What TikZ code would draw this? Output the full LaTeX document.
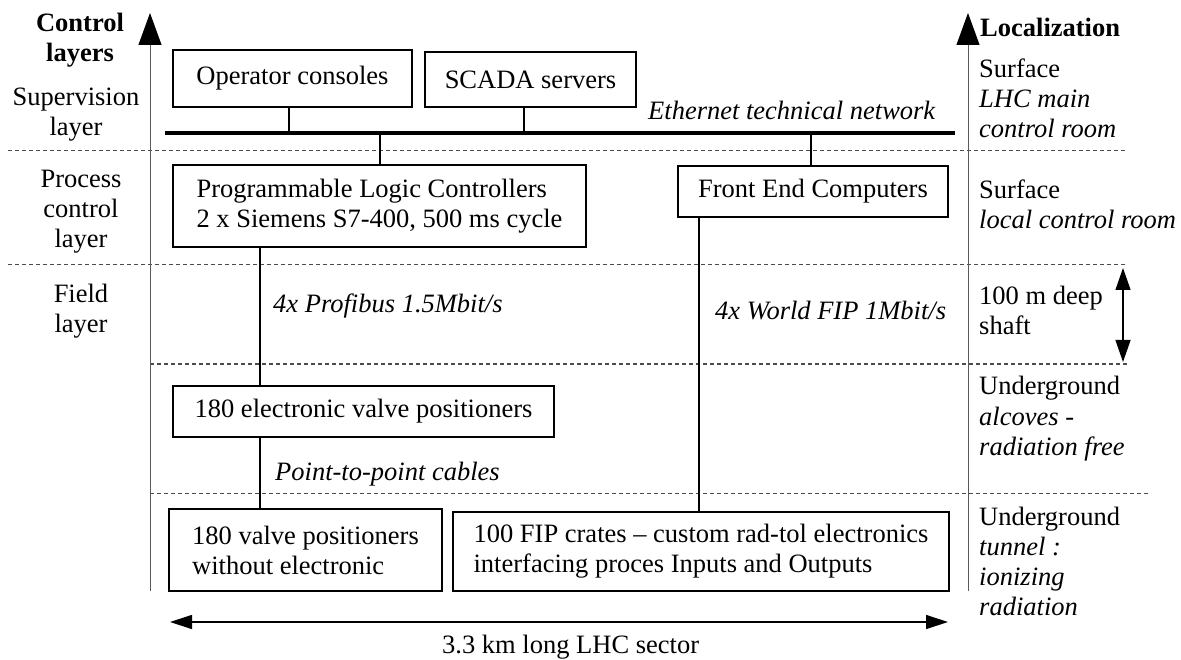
\documentclass[tikz,border=0pt]{standalone}
\usepackage{fontspec}
\setmainfont{Liberation Serif}
\usetikzlibrary{arrows.meta}
\newcommand\leftlines[1]{\begin{tabular}[t]{@{}l@{}}#1\end{tabular}}
\newcommand\centerlines[1]{\begin{tabular}[t]{@{}c@{}}#1\end{tabular}}
\tikzset{
  box/.style={draw, line width=2.2pt, inner sep=0pt, align=left},
  conn/.style={line width=2pt},
  bus/.style={line width=3.5pt},
  axis/.style={line width=1pt, black!65, -{Triangle[length=32pt,width=23pt,color=black]}},
  sep/.style={line width=1pt, black!70, dash pattern=on 4pt off 3pt},
  dbl/.style={line width=1.2pt, {Triangle[length=22pt,width=15pt]}-{Triangle[length=22pt,width=15pt]}},
  lbl/.style={inner sep=0pt, anchor=base west},
  lyr/.style={inner sep=0pt, anchor=base},
}
\begin{document}
\begin{tikzpicture}[x=1pt,y=-1pt,font=\fontsize{26.5}{30}\selectfont]
\useasboundingbox (0,0) rectangle (1181,660);
% separators
\draw[sep] (8,151) -- (1125,151);
\draw[sep] (8,265) -- (1125,265);
\draw[sep] (150,364) -- (1128,364);
\draw[sep] (150,493) -- (1151,493);
% axes
\coordinate (laxB) at (150,591);
\coordinate (laxT) at (150,13);
\coordinate (raxB) at (968,591);
\coordinate (raxT) at (968,13);
\draw[axis] (laxB) -- (laxT);
\draw[axis] (raxB) -- (raxT);
% bus
\coordinate (busL) at (165,133);
\coordinate (busR) at (955,133);
\draw[bus] (busL) -- (busR);
% boxes
\node[box, minimum width=239pt, minimum height=57pt] (oc) at (292.5,78.5) {Operator consoles};
\node[box, minimum width=211pt, minimum height=55pt] (scada) at (530.5,79.5) {SCADA servers};
\node[box, minimum width=413pt, minimum height=82pt] (plc) at (379.5,206) {Programmable Logic Controllers\\2 x Siemens S7-400, 500 ms cycle};
\node[box, minimum width=270pt, minimum height=51pt] (fec) at (813,191.5) {Front End Computers};
\node[box, minimum width=381pt, minimum height=51pt] (evp) at (363.5,411.5) {180 electronic valve positioners};
\node[box, minimum width=273pt, minimum height=82pt] (vp) at (305.5,550) {180 valve positioners\\without electronic};
\node[box, minimum width=496pt, minimum height=79pt] (fip) at (701,551.5) {100 FIP crates – custom rad-tol electronics\\interfacing proces Inputs and Outputs};
% connectors
\draw[conn] ([xshift=-3.5pt]oc.south) -- ([xshift=-3.5pt]oc.south |- busL);
\draw[conn] ([xshift=-6.5pt]scada.south) -- ([xshift=-6.5pt]scada.south |- busL);
\draw[conn] (plc.north) -- (plc.north |- busL);
\draw[conn] ([xshift=-2pt]fec.north) -- ([xshift=-2pt]fec.north |- busL);
\draw[conn] ([xshift=-119.5pt]plc.south) -- ([xshift=-119.5pt]plc.south |- evp.north);
\draw[conn] ([xshift=-103.5pt]evp.south) -- ([xshift=-103.5pt]evp.south |- vp.north);
\draw[conn] ([xshift=-114pt]fec.south) -- ([xshift=-114pt]fec.south |- fip.north);
% link labels
\node[lbl] (eth) at (648,120) {\itshape Ethernet technical network};
\node[lbl] (prof) at (273,313) {\itshape 4x Profibus 1.5Mbit/s};
\node[lbl] (wfip) at (715,320) {\itshape 4x World FIP 1Mbit/s};
\node[lbl] (p2p) at (275,480) {\itshape Point-to-point cables};
% bottom arrow
\coordinate (secL) at (170,622);
\coordinate (secR) at (948,622);
\draw[line width=1.2pt, {Triangle[length=22pt,width=14pt]}-{Triangle[length=22pt,width=14pt]}] (secL) -- (secR);
\node[lbl] (sector) at (442,653) {3.3 km long LHC sector};
% shaft arrow
\coordinate (shT) at (1123,268);
\coordinate (shB) at (1123,362);
\draw[dbl] (shT) -- (shB);
% left layer labels
\node[lyr] (cl) at (80,32) {\bfseries\centerlines{Control\\layers}};
\node[lyr] (sup) at (76,106) {\centerlines{Supervision\\layer}};
\node[lyr] (proc) at (81,188) {\centerlines{Process\\control\\layer}};
\node[lyr] (fld) at (81,303) {\centerlines{Field\\layer}};
% right localization labels
\node[lbl] (loc) at (980,37) {\bfseries Localization};
\node[lbl] (l1) at (979,78) {\leftlines{Surface\\\textit{LHC main}\\\textit{control room}}};
\node[lbl] (l2) at (979,199) {\leftlines{Surface\\\textit{local control room}}};
\node[lbl] (l3) at (979,305) {\leftlines{100 m deep\\shaft}};
\node[lbl] (l4) at (979,395) {\leftlines{Underground\\\textit{alcoves} -\\\textit{radiation free}}};
\node[lbl] (l5) at (979,525) {\leftlines{Underground\\\textit{tunnel :}\\\textit{ionizing}\\\textit{radiation}}};
\end{tikzpicture}
\end{document}
